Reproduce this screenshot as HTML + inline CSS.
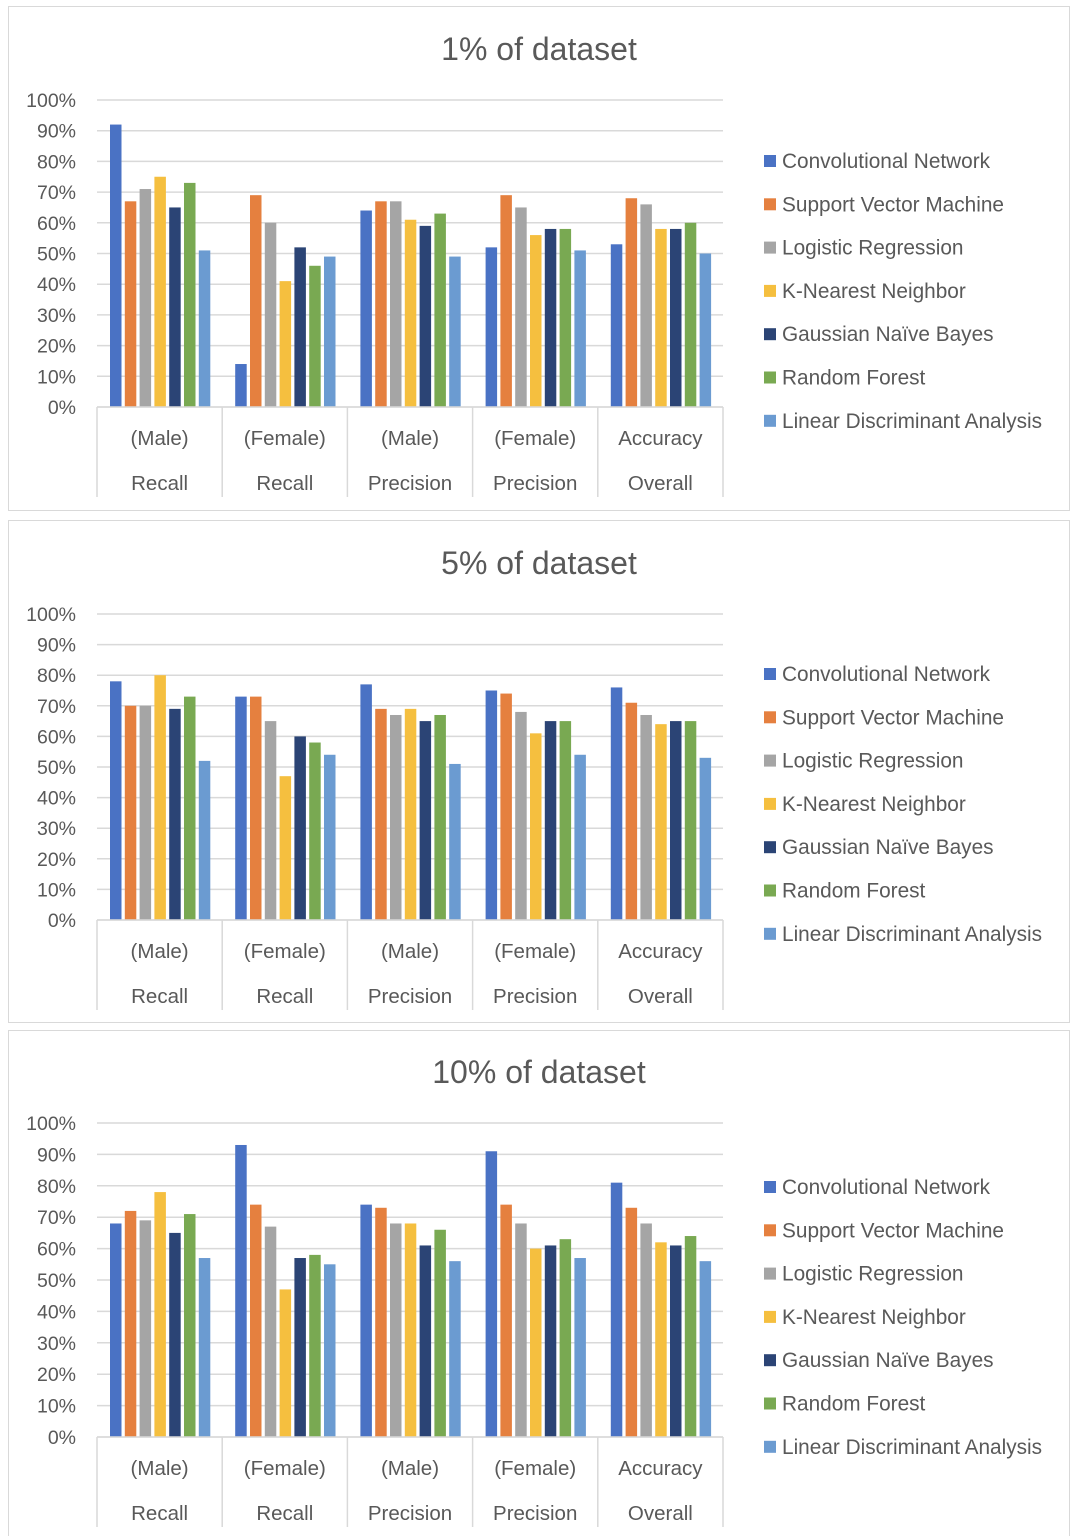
<!DOCTYPE html>
<html><head><meta charset="utf-8">
<style>
html,body{margin:0;padding:0;background:#fff;}
body{width:1074px;height:1536px;overflow:hidden;position:relative;font-family:"Liberation Sans",sans-serif;}
svg{position:absolute;left:0;top:0;}
text{font-family:"Liberation Sans",sans-serif;fill:#595959;}
</style></head>
<body>
<svg id="s" width="1074" height="1536"></svg>
<script>
const categoriesTop=["(Male)","(Female)","(Male)","(Female)","Accuracy"];
const categoriesBottom=["Recall","Recall","Precision","Precision","Overall"];
const seriesNames=["Convolutional Network","Support Vector Machine","Logistic Regression","K-Nearest Neighbor","Gaussian Naïve Bayes","Random Forest","Linear Discriminant Analysis"];
const tickLabels=["0%","10%","20%","30%","40%","50%","60%","70%","80%","90%","100%"];
const chartTitles=["1% of dataset","5% of dataset","10% of dataset"];
const data1CN=[92,14,64,52,53];
const data1SVM=[67,69,67,69,68];
const data1LR=[71,60,67,65,66];
const data1KNN=[75,41,61,56,58];
const data1GNB=[65,52,59,58,58];
const data1RF=[73,46,63,58,60];
const data1LDA=[51,49,49,51,50];
const data2CN=[78,73,77,75,76];
const data2SVM=[70,73,69,74,71];
const data2LR=[70,65,67,68,67];
const data2KNN=[80,47,69,61,64];
const data2GNB=[69,60,65,65,65];
const data2RF=[73,58,67,65,65];
const data2LDA=[52,54,51,54,53];
const data3CN=[68,93,74,91,81];
const data3SVM=[72,74,73,74,73];
const data3LR=[69,67,68,68,68];
const data3KNN=[78,47,68,60,62];
const data3GNB=[65,57,61,61,61];
const data3RF=[71,58,66,63,64];
const data3LDA=[57,55,56,57,56];
const allData=[[data1CN,data1SVM,data1LR,data1KNN,data1GNB,data1RF,data1LDA],
[data2CN,data2SVM,data2LR,data2KNN,data2GNB,data2RF,data2LDA],
[data3CN,data3SVM,data3LR,data3KNN,data3GNB,data3RF,data3LDA]];
const colors=["#4A72C4","#E5803F","#A5A5A5","#F5BF3F","#2B4475","#79A952","#6B9BD1"];
const panels=[{top:6,bot:510,y0:407,y100:100,title:49,legend:161},
{top:520,bot:1022,y0:920,y100:614,title:563,legend:674},
{top:1030,bot:1540,y0:1437,y100:1123,title:1072,legend:1187}];
const NS="http://www.w3.org/2000/svg";
const svg=document.getElementById('s');
function mk(tag,attrs,parent){const e=document.createElementNS(NS,tag);for(const k in attrs)e.setAttribute(k,attrs[k]);(parent||svg).appendChild(e);return e;}
const X0=97,GW=125.2;
panels.forEach((p,pi)=>{
  const g=mk('g',{});
  
  
  mk('rect',{x:8.5,y:p.top+0.5,width:1061,height:p.bot-p.top,fill:'#fff',stroke:'#d9d9d9'},g);
  const yS=v=>p.y0-(p.y0-p.y100)*v/100;
  const t=mk('text',{x:539,y:p.title+11,'text-anchor':'middle','font-size':32},g);
  t.textContent=chartTitles[pi];
  
  
  tickLabels.forEach((lb,i)=>{
    const y=yS(i*10);
    mk('line',{x1:X0,x2:723,y1:y,y2:y,stroke:'#d9d9d9','stroke-width':1.5},g);
    const tx=mk('text',{x:76,y:y+7,'text-anchor':'end','font-size':19.5},g);
    tx.textContent=lb;
    
    
  });
  for(let c=0;c<=5;c++){
    const x=X0+GW*c;
    mk('line',{x1:x,x2:x,y1:p.y0,y2:p.y0+90,stroke:'#d9d9d9','stroke-width':1.5},g);
  }
  categoriesTop.forEach((c,ci)=>{
    const cx=X0+GW*ci+GW/2;
    const a=mk('text',{x:cx,y:p.y0+38,'text-anchor':'middle','font-size':20.5},g);a.textContent=c;
    
    
    const b=mk('text',{x:cx,y:p.y0+83,'text-anchor':'middle','font-size':20.5},g);b.textContent=categoriesBottom[ci];
    
    
  });
  allData[pi].forEach((ser,si)=>{
    ser.forEach((v,ci)=>{
      const x=X0+GW*ci+13+si*14.8;
      const r=mk('rect',{x:x,y:yS(v),width:11.5,height:p.y0-yS(v),fill:colors[si]},g);
      
      
    });
    const ly=p.legend+si*43.3;
    const sq=mk('rect',{x:764,y:ly-6,width:12,height:12,fill:colors[si]},g);
    
    
    const lt=mk('text',{x:782,y:ly+7,'font-size':20.8},g);lt.textContent=seriesNames[si];
    
    
  });
  mk('line',{x1:X0,x2:723,y1:p.y0,y2:p.y0,stroke:'#d9d9d9','stroke-width':1.5},g);
});
</script>
</body></html>
